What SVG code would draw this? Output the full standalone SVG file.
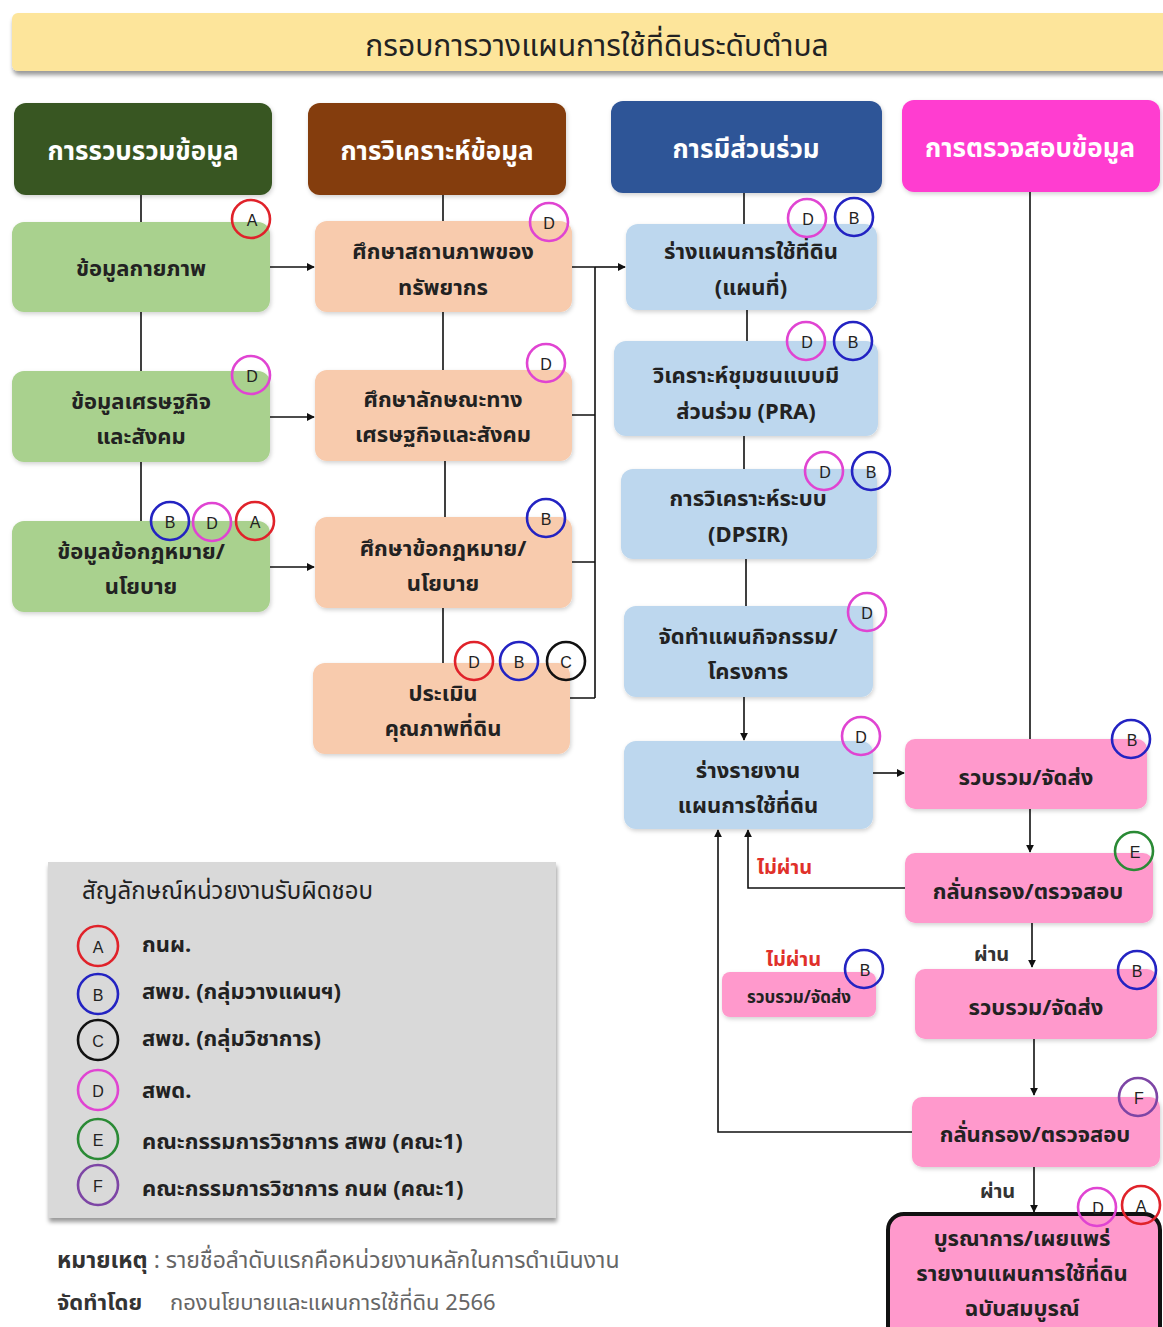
<svg xmlns="http://www.w3.org/2000/svg" width="1163" height="1327" viewBox="0 0 1163 1327">
<style>
  text { font-family: "Noto Sans", "Noto Sans Thai", Tahoma, "DejaVu Sans", sans-serif; }
  .hdr { fill: #fff; font-size: 26px; font-weight: bold; text-anchor: middle; dominant-baseline: central; }
  .nt { fill: #222; font-size: 22px; font-weight: bold; text-anchor: middle; dominant-baseline: central; }
  .green { fill: #a9d18e; }
  .peach { fill: #f8cbad; }
  .blue { fill: #bdd7ee; }
  .pink { fill: #ff99cc; }
  .ln { fill: none; stroke: #111; stroke-width: 1.6; }
  .arr { fill: none; stroke: #111; stroke-width: 1.6; marker-end: url(#ah); }
  .bc { fill: none; stroke-width: 2.6; }
  .bt { font-family: "Liberation Sans", Arial, sans-serif; font-size: 16px; fill: #222; text-anchor: middle; dominant-baseline: central; }
  .cA { stroke: #e0222a; } .cB { stroke: #2323c2; } .cC { stroke: #111; }
  .cD { stroke: #e044d2; } .cE { stroke: #2a8a35; } .cF { stroke: #7d45a5; }
  .lg { fill: #222; font-size: 22px; font-weight: bold; dominant-baseline: central; }
  .red { fill: #e0302a; font-size: 20px; font-weight: bold; dominant-baseline: central; }
  .ok { fill: #333; font-size: 20px; font-weight: bold; dominant-baseline: central; }
</style>
<defs>
  <marker id="ah" viewBox="0 0 10 10" refX="9" refY="5" markerWidth="8" markerHeight="8" markerUnits="userSpaceOnUse" orient="auto">
    <path d="M0 0 L10 5 L0 10 Z" fill="#111"/>
  </marker>
  <filter id="sh" x="-10%" y="-10%" width="120%" height="130%">
    <feDropShadow dx="1" dy="2" stdDeviation="2" flood-color="#000" flood-opacity="0.18"/>
  </filter>
  <filter id="sh2" x="-5%" y="-10%" width="110%" height="140%">
    <feDropShadow dx="1" dy="4" stdDeviation="2" flood-color="#000" flood-opacity="0.4"/>
  </filter>
</defs>
<rect width="1163" height="1327" fill="#fff"/>

<g id="title">
  <rect x="12" y="13" width="1165" height="58" rx="6" fill="#fde59b" filter="url(#sh2)"/>
  <text x="597" y="44" font-size="30" fill="#222" text-anchor="middle" dominant-baseline="central">กรอบการวางแผนการใช้ที่ดินระดับตำบล</text>
</g>

<g id="headers">
  <g id="h1"><rect x="14" y="103" width="258" height="92" rx="12" fill="#375623" filter="url(#sh)"/><text class="hdr" x="143" y="150">การรวบรวมข้อมูล</text></g>
  <g id="h2"><rect x="308" y="103" width="258" height="92" rx="12" fill="#843c0c" filter="url(#sh)"/><text class="hdr" x="437" y="150">การวิเคราะห์ข้อมูล</text></g>
  <g id="h3"><rect x="611" y="101" width="271" height="92" rx="12" fill="#2f5597" filter="url(#sh)"/><text class="hdr" x="746" y="148">การมีส่วนร่วม</text></g>
  <g id="h4"><rect x="902" y="100" width="258" height="92" rx="12" fill="#ff3ed0" filter="url(#sh)"/><text class="hdr" x="1030" y="147">การตรวจสอบข้อมูล</text></g>
</g>

<g id="connectors">
  <path class="ln" d="M141 195 V222 M141 312 V371 M141 462 V521"/>
  <path class="ln" d="M443 195 V221 M443 312 V370 M445 461 V517 M443 608 V663"/>
  <path class="arr" d="M270 267 H314"/>
  <path class="arr" d="M270 417 H314"/>
  <path class="arr" d="M270 567 H314"/>
  <path class="ln" d="M572 267 H595 M572 415 H595 M572 562 H595 M570 698 H595 M595 267 V698"/>
  <path class="arr" d="M595 267 H625"/>
  <path class="ln" d="M744 193 V224 M747 310 V341 M744 436 V469 M746 559 V606"/>
  <path class="arr" d="M744 697 V740"/>
  <path class="ln" d="M1030 192 V739"/>
  <path class="arr" d="M873 773 H904"/>
  <path class="arr" d="M1030 809 V852"/>
  <path class="arr" d="M905 888 H748 V830"/>
  <path class="arr" d="M1032 923 V967"/>
  <path class="arr" d="M1034 1039 V1095"/>
  <path class="arr" d="M912 1132 H718 V830"/>
  <path class="arr" d="M1034 1167 V1212"/>
</g>

<g id="n-phys"><rect class="green" x="12" y="222" width="258" height="90" rx="12" filter="url(#sh)"/><text class="nt" x="141" y="267">ข้อมูลกายภาพ</text></g>
<g id="n-econ"><rect class="green" x="12" y="371" width="258" height="91" rx="12" filter="url(#sh)"/><text class="nt" x="141" y="400">ข้อมูลเศรษฐกิจ</text><text class="nt" x="141" y="435">และสังคม</text></g>
<g id="n-law"><rect class="green" x="12" y="521" width="258" height="91" rx="12" filter="url(#sh)"/><text class="nt" x="141" y="550">ข้อมูลข้อกฎหมาย/</text><text class="nt" x="141" y="585">นโยบาย</text></g>

<g id="n-res"><rect class="peach" x="315" y="221" width="257" height="91" rx="12" filter="url(#sh)"/><text class="nt" x="443" y="250">ศึกษาสถานภาพของ</text><text class="nt" x="443" y="286">ทรัพยากร</text></g>
<g id="n-soc"><rect class="peach" x="315" y="370" width="257" height="91" rx="12" filter="url(#sh)"/><text class="nt" x="443" y="398">ศึกษาลักษณะทาง</text><text class="nt" x="443" y="433">เศรษฐกิจและสังคม</text></g>
<g id="n-slaw"><rect class="peach" x="315" y="517" width="257" height="91" rx="12" filter="url(#sh)"/><text class="nt" x="443" y="547">ศึกษาข้อกฎหมาย/</text><text class="nt" x="443" y="582">นโยบาย</text></g>
<g id="n-eval"><rect class="peach" x="313" y="663" width="257" height="91" rx="12" filter="url(#sh)"/><text class="nt" x="443" y="692">ประเมิน</text><text class="nt" x="443" y="727">คุณภาพที่ดิน</text></g>

<g id="n-draft"><rect class="blue" x="626" y="224" width="251" height="86" rx="12" filter="url(#sh)"/><text class="nt" x="751" y="250">ร่างแผนการใช้ที่ดิน</text><text class="nt" x="751" y="286">(แผนที่)</text></g>
<g id="n-pra"><rect class="blue" x="614" y="341" width="264" height="95" rx="12" filter="url(#sh)"/><text class="nt" x="746" y="374">วิเคราะห์ชุมชนแบบมี</text><text class="nt" x="746" y="410">ส่วนร่วม (PRA)</text></g>
<g id="n-dpsir"><rect class="blue" x="621" y="469" width="256" height="90" rx="12" filter="url(#sh)"/><text class="nt" x="748" y="497">การวิเคราะห์ระบบ</text><text class="nt" x="748" y="533">(DPSIR)</text></g>
<g id="n-act"><rect class="blue" x="624" y="606" width="249" height="91" rx="12" filter="url(#sh)"/><text class="nt" x="748" y="635">จัดทำแผนกิจกรรม/</text><text class="nt" x="748" y="670">โครงการ</text></g>
<g id="n-rep"><rect class="blue" x="624" y="741" width="249" height="88" rx="12" filter="url(#sh)"/><text class="nt" x="748" y="769">ร่างรายงาน</text><text class="nt" x="748" y="804">แผนการใช้ที่ดิน</text></g>

<g id="n-col1"><rect class="pink" x="905" y="739" width="242" height="70" rx="10" filter="url(#sh)"/><text class="nt" x="1026" y="776">รวบรวม/จัดส่ง</text></g>
<g id="n-chk1"><rect class="pink" x="905" y="853" width="248" height="70" rx="10" filter="url(#sh)"/><text class="nt" x="1028" y="890">กลั่นกรอง/ตรวจสอบ</text></g>
<g id="n-col2"><rect class="pink" x="915" y="969" width="242" height="70" rx="10" filter="url(#sh)"/><text class="nt" x="1036" y="1006">รวบรวม/จัดส่ง</text></g>
<g id="n-small"><rect class="pink" x="722" y="972" width="154" height="45" rx="8" filter="url(#sh)"/><text class="nt" x="799" y="996" style="font-size:17px">รวบรวม/จัดส่ง</text></g>
<g id="n-chk2"><rect class="pink" x="912" y="1097" width="248" height="70" rx="10" filter="url(#sh)"/><text class="nt" x="1035" y="1133">กลั่นกรอง/ตรวจสอบ</text></g>
<g id="n-final"><rect class="pink" x="888" y="1214" width="272" height="130" rx="16" stroke="#111" stroke-width="4"/><text class="nt" x="1022" y="1237">บูรณาการ/เผยแพร่</text><text class="nt" x="1022" y="1272">รายงานแผนการใช้ที่ดิน</text><text class="nt" x="1022" y="1307">ฉบับสมบูรณ์</text></g>

<g id="labels">
  <text class="red" x="757" y="866">ไม่ผ่าน</text>
  <text class="red" x="766" y="958">ไม่ผ่าน</text>
  <text class="ok" x="974" y="953">ผ่าน</text>
  <text class="ok" x="980" y="1190">ผ่าน</text>
</g>

<g id="badges">
  <circle class="bc cA" cx="251" cy="219" r="19"/><text class="bt" x="252" y="220">A</text>
  <circle class="bc cD" cx="251" cy="375" r="19"/><text class="bt" x="252" y="376">D</text>
  <circle class="bc cB" cx="170" cy="521" r="19"/><text class="bt" x="170" y="522">B</text>
  <circle class="bc cD" cx="212" cy="522" r="19"/><text class="bt" x="212" y="523">D</text>
  <circle class="bc cA" cx="255" cy="521" r="19"/><text class="bt" x="255" y="522">A</text>
  <circle class="bc cD" cx="549" cy="222" r="19"/><text class="bt" x="549" y="223">D</text>
  <circle class="bc cD" cx="546" cy="363" r="19"/><text class="bt" x="546" y="364">D</text>
  <circle class="bc cB" cx="546" cy="518" r="19"/><text class="bt" x="546" y="519">B</text>
  <circle class="bc cA" cx="474" cy="661" r="19"/><text class="bt" x="474" y="662">D</text>
  <circle class="bc cB" cx="519" cy="661" r="19"/><text class="bt" x="519" y="662">B</text>
  <circle class="bc cC" cx="566" cy="661" r="19"/><text class="bt" x="566" y="662">C</text>
  <circle class="bc cD" cx="807" cy="218" r="19"/><text class="bt" x="808" y="219">D</text>
  <circle class="bc cB" cx="854" cy="217" r="19"/><text class="bt" x="854" y="218">B</text>
  <circle class="bc cD" cx="806" cy="341" r="19"/><text class="bt" x="807" y="342">D</text>
  <circle class="bc cB" cx="853" cy="341" r="19"/><text class="bt" x="853" y="342">B</text>
  <circle class="bc cD" cx="824" cy="471" r="19"/><text class="bt" x="825" y="472">D</text>
  <circle class="bc cB" cx="871" cy="471" r="19"/><text class="bt" x="871" y="472">B</text>
  <circle class="bc cD" cx="867" cy="612" r="19"/><text class="bt" x="867" y="613">D</text>
  <circle class="bc cD" cx="861" cy="736" r="19"/><text class="bt" x="861" y="737">D</text>
  <circle class="bc cB" cx="1131" cy="739" r="19"/><text class="bt" x="1132" y="740">B</text>
  <circle class="bc cE" cx="1134" cy="851" r="19"/><text class="bt" x="1135" y="852">E</text>
  <circle class="bc cB" cx="864" cy="969" r="19"/><text class="bt" x="865" y="970">B</text>
  <circle class="bc cB" cx="1137" cy="970" r="19"/><text class="bt" x="1137" y="971">B</text>
  <circle class="bc cF" cx="1138" cy="1097" r="19"/><text class="bt" x="1139" y="1098">F</text>
  <circle class="bc cD" cx="1097" cy="1207" r="19"/><text class="bt" x="1098" y="1208">D</text>
  <circle class="bc cA" cx="1141" cy="1205" r="19"/><text class="bt" x="1141" y="1206">A</text>
</g>

<g id="legend">
  <rect x="48" y="862" width="508" height="356" fill="#d9d9d9" filter="url(#sh2)"/>
  <text class="lg" x="82" y="889" style="font-weight:normal;font-size:24px">สัญลักษณ์หน่วยงานรับผิดชอบ</text>
  <circle class="bc cA" cx="98" cy="946" r="20"/><text class="bt" x="98" y="947">A</text><text class="lg" x="142" y="943">กนผ.</text>
  <circle class="bc cB" cx="98" cy="994" r="20"/><text class="bt" x="98" y="995">B</text><text class="lg" x="142" y="990">สพข. (กลุ่มวางแผนฯ)</text>
  <circle class="bc cC" cx="98" cy="1040" r="20"/><text class="bt" x="98" y="1041">C</text><text class="lg" x="142" y="1037">สพข. (กลุ่มวิชาการ)</text>
  <circle class="bc cD" cx="98" cy="1090" r="20"/><text class="bt" x="98" y="1091">D</text><text class="lg" x="142" y="1089">สพด.</text>
  <circle class="bc cE" cx="98" cy="1139" r="20"/><text class="bt" x="98" y="1140">E</text><text class="lg" x="142" y="1140">คณะกรรมการวิชาการ สพข (คณะ1)</text>
  <circle class="bc cF" cx="98" cy="1185" r="20"/><text class="bt" x="98" y="1186">F</text><text class="lg" x="142" y="1187">คณะกรรมการวิชาการ กนผ (คณะ1)</text>
</g>

<g id="notes">
  <text x="57" y="1259" font-size="23" dominant-baseline="central"><tspan font-weight="bold" fill="#333">หมายเหตุ</tspan><tspan fill="#666"> : รายชื่อลำดับแรกคือหน่วยงานหลักในการดำเนินงาน</tspan></text>
  <text x="57" y="1301" font-size="22" font-weight="bold" fill="#333" dominant-baseline="central">จัดทำโดย</text>
  <text x="170" y="1301" font-size="22" fill="#666" dominant-baseline="central">กองนโยบายและแผนการใช้ที่ดิน 2566</text>
</g>
</svg>
